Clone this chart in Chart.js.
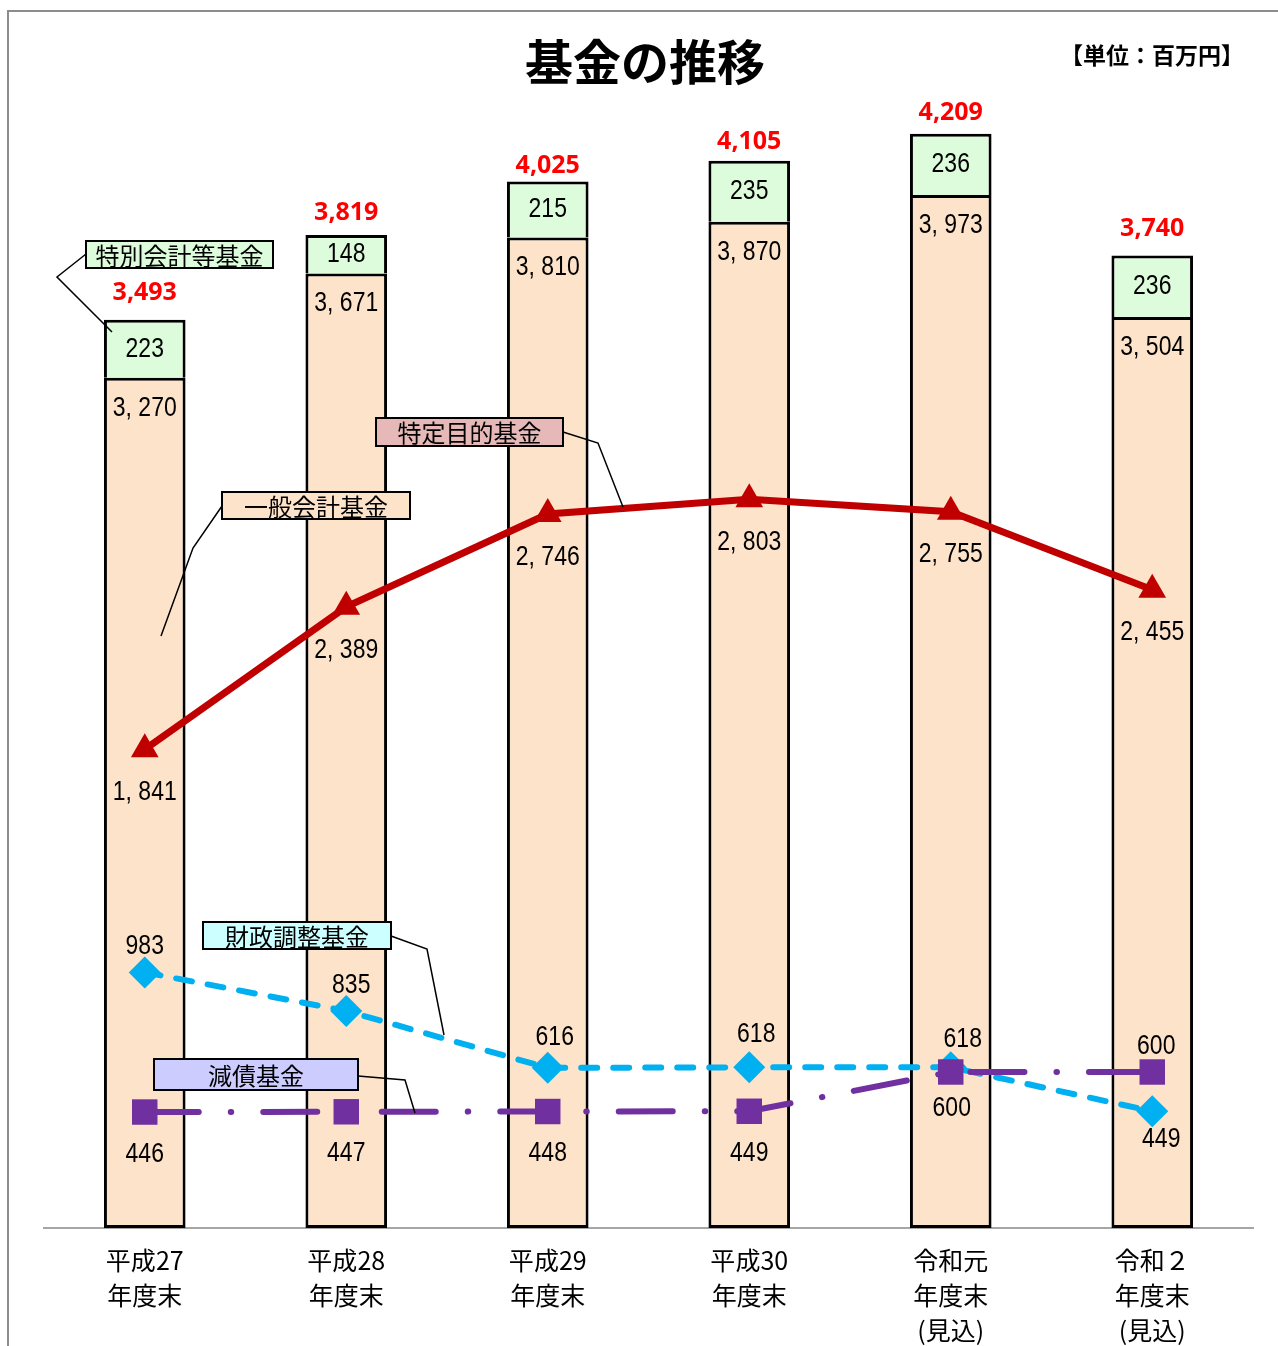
<!DOCTYPE html>
<html lang="ja">
<head>
<meta charset="utf-8">
<title>基金の推移</title>
<script src="https://cdn.jsdelivr.net/npm/chart.js@4.4.1/dist/chart.umd.min.js"></script>
<style>
  html, body { margin: 0; padding: 0; background: #fff; }
  #wrap { position: relative; width: 1278px; height: 1346px; overflow: hidden; }
</style>
</head>
<body>
<div id="wrap"><canvas id="fundChart" width="1278" height="1346"></canvas></div>
<script>
// 年度
const years = [
    ['平成27', '年度末'],
    ['平成28', '年度末'],
    ['平成29', '年度末'],
    ['平成30', '年度末'],
    ['令和元', '年度末', '(見込)'],
    ['令和２', '年度末', '(見込)']
];
// 棒グラフ（百万円）
const generalFund = [3270, 3671, 3810, 3870, 3973, 3504];   // 一般会計基金
const specialFund = [223, 148, 215, 235, 236, 236];         // 特別会計等基金
const totalFund = [3493, 3819, 4025, 4105, 4209, 3740];     // 合計
// 折れ線
const purposeFund = [1841, 2389, 2746, 2803, 2755, 2455];   // 特定目的基金
const adjustFund = [983, 835, 616, 618, 618, 449];          // 財政調整基金
const debtFund = [446, 447, 448, 449, 600, 600];            // 減債基金

const JP = "'Noto Sans CJK JP', 'Noto Sans', sans-serif";
const NUM = "28px 'Liberation Sans', sans-serif";

// 数値ラベルの位置 (dx, dy) - 見た目の調整用
const totalOffsets = [-27, -22, -16, -19, -21, -27];
const purposeOffsets = [[0, 43], [0, 43], [0, 43], [0, 43], [0, 43], [0, 43]];
const adjustOffsets = [[0, -26], [5, -26], [7, -31], [7, -33], [12, -28], [9, 28]];
const debtOffsets = [[0, 42], [0, 42], [0, 42], [0, 42], [1, 36], [4, -26]];

// 吹き出しラベル
const callouts = [
    { text: '特別会計等基金', x: 86, y: 241, w: 187, h: 27, fill: '#DCFCDC', path: [[86, 254], [57, 277], [112, 332]] },
    { text: '一般会計基金', x: 222, y: 492, w: 188, h: 27, fill: '#FDE3C9', path: [[222, 506], [193, 548], [161, 636]] },
    { text: '特定目的基金', x: 376, y: 418, w: 187, h: 28, fill: '#E6B9B8', path: [[563, 432], [598, 443], [623, 507]] },
    { text: '財政調整基金', x: 203, y: 922, w: 188, h: 27, fill: '#CCFFFF', path: [[391, 936], [427, 949], [444, 1035]] },
    { text: '減債基金', x: 154, y: 1059, w: 204, h: 31, fill: '#CCCCFF', path: [[358, 1076], [405, 1080], [415, 1113]] }
];

function fmtSpaced(v) {
    // "3, 270" 形式
    return v.toLocaleString('en-US').replace(',', ', ');
}

// 縦長の数字（横方向に縮める）
function narrowText(ctx, t, x, y) {
    ctx.save();
    ctx.translate(x, y);
    ctx.scale(0.82, 1);
    ctx.font = NUM;
    ctx.fillStyle = '#000';
    ctx.fillText(t, 0, 0);
    ctx.restore();
}

const framePlugin = {
    id: 'frame',
    beforeDraw(chart) {
        const ctx = chart.ctx;
        ctx.save();
        ctx.fillStyle = '#fff';
        ctx.fillRect(0, 0, chart.width, chart.height);
        ctx.strokeStyle = '#8C8C8C';
        ctx.lineWidth = 2;
        ctx.strokeRect(8, 11, 1400, 1500);
        ctx.restore();
    }
};

const labelPlugin = {
    id: 'labels',
    afterDatasetsDraw(chart) {
        const ctx = chart.ctx;
        ctx.save();
        ctx.textAlign = 'center';
        ctx.textBaseline = 'middle';

        const genMeta = chart.getDatasetMeta(0);
        const spMeta = chart.getDatasetMeta(1);

        // 一般会計基金
        genMeta.data.forEach((bar, i) => {
            narrowText(ctx, fmtSpaced(generalFund[i]), bar.x, bar.y + 30);
        });
        // 特別会計等基金 + 合計
        spMeta.data.forEach((bar, i) => {
            narrowText(ctx, String(specialFund[i]), bar.x, (bar.y + bar.base) / 2);
            ctx.fillStyle = '#FF0000';
            ctx.font = 'bold 25px "Noto Sans", sans-serif';
            ctx.fillText(totalFund[i].toLocaleString('en-US'), bar.x, bar.y + totalOffsets[i]);
        });

        // 折れ線の数値
        const lines = [
            [2, purposeFund, purposeOffsets, true],
            [3, adjustFund, adjustOffsets, false],
            [4, debtFund, debtOffsets, false]
        ];
        lines.forEach(([idx, vals, offs, spaced]) => {
            chart.getDatasetMeta(idx).data.forEach((pt, i) => {
                const t = spaced ? fmtSpaced(vals[i]) : String(vals[i]);
                narrowText(ctx, t, pt.x + offs[i][0], pt.y + offs[i][1]);
            });
        });

        // 吹き出し
        callouts.forEach(c => {
            ctx.strokeStyle = '#000';
            ctx.lineWidth = 1.5;
            ctx.beginPath();
            c.path.forEach((p, k) => k ? ctx.lineTo(p[0], p[1]) : ctx.moveTo(p[0], p[1]));
            ctx.stroke();
            ctx.fillStyle = c.fill;
            ctx.fillRect(c.x, c.y, c.w, c.h);
            ctx.lineWidth = 2;
            ctx.strokeRect(c.x, c.y, c.w, c.h);
            ctx.fillStyle = '#000';
            ctx.font = '24px ' + JP;
            ctx.fillText(c.text, c.x + c.w / 2, c.y + c.h / 2 + 1);
        });

        // タイトルと単位
        ctx.fillStyle = '#000';
        ctx.font = 'bold 48px ' + JP;
        ctx.fillText('基金の推移', 645, 62);
        ctx.font = 'bold 23px ' + JP;
        ctx.textAlign = 'left';
        ctx.fillText('【単位：百万円】', 1060, 55);
        ctx.restore();
    }
};

const ctx = document.getElementById('fundChart').getContext('2d');
new Chart(ctx, {
    data: {
        labels: years,
        datasets: [
            {
                type: 'bar', label: '一般会計基金', data: generalFund,
                backgroundColor: '#FDE3C9', borderColor: '#000', borderWidth: 3,
                borderSkipped: false, stack: 'fund', barPercentage: 0.405, categoryPercentage: 1, order: 3
            },
            {
                type: 'bar', label: '特別会計等基金', data: specialFund,
                backgroundColor: '#DCFCDC', borderColor: '#000',
                borderWidth: { top: 3, left: 3, right: 3, bottom: 0 },
                borderSkipped: false, stack: 'fund', barPercentage: 0.405, categoryPercentage: 1, order: 3
            },
            {
                type: 'line', label: '特定目的基金', data: purposeFund, stack: 'p',
                borderColor: '#C00000', backgroundColor: '#C00000', borderWidth: 7,
                pointStyle: 'triangle', pointRadius: 16, pointBorderWidth: 0, tension: 0, order: 1
            },
            {
                type: 'line', label: '財政調整基金', data: adjustFund, stack: 'a',
                borderColor: '#00B0F0', backgroundColor: '#00B0F0', borderWidth: 6,
                borderDash: [16, 16], borderCapStyle: 'round',
                pointStyle: 'rectRot', pointRadius: 16, pointBorderWidth: 0, tension: 0, order: 1
            },
            {
                type: 'line', label: '減債基金', data: debtFund, stack: 'd',
                borderColor: '#7030A0', backgroundColor: '#7030A0', borderWidth: 6,
                borderDash: [54, 32, 0.5, 32], borderCapStyle: 'round',
                pointStyle: 'rect', pointRadius: 18, pointBorderWidth: 0, tension: 0, order: 0
            }
        ]
    },
    options: {
        responsive: false,
        animation: false,
        layout: { padding: { left: 44, right: 25, top: 84, bottom: 0 } },
        plugins: {
            legend: { display: false },
            tooltip: { enabled: false },
            title: { display: false }
        },
        scales: {
            x: {
                grid: { display: false, drawTicks: false },
                border: { display: true, color: '#A6A6A6', width: 2 },
                ticks: {
                    color: '#000', padding: 15, maxRotation: 0, autoSkip: false,
                    font: { family: JP, size: 25, lineHeight: 1.4 }
                },
                afterFit: s => { s.height = 118; }
            },
            y: { display: false, stacked: true, min: 0, max: 4400 }
        }
    },
    plugins: [framePlugin, labelPlugin]
});
</script>
</body>
</html>
